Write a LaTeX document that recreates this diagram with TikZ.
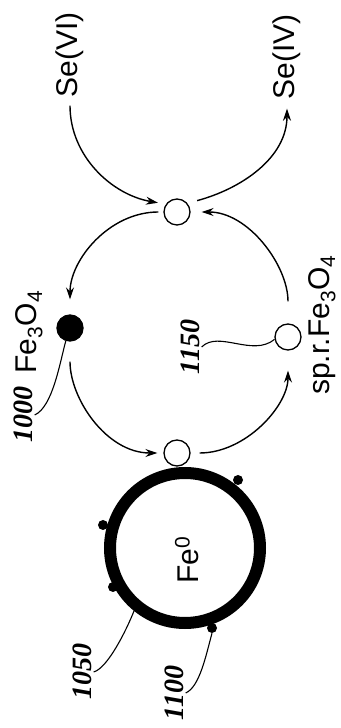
\documentclass[tikz,border=0pt]{standalone}
\usepackage{fontspec}
\setsansfont{Liberation Sans}
\newfontfamily\numfont{Liberation Serif}
\usetikzlibrary{arrows.meta}

\begin{document}
\begin{tikzpicture}[
		x=1pt, y=1pt,
		lbl/.style={rotate=90, inner sep=3pt,
			font=\sffamily\fontsize{30}{36}\selectfont},
		num/.style={rotate=90, inner sep=2pt,
			font=\numfont\bfseries\itshape\fontsize{28}{32}\selectfont},
		site/.style={circle, draw, line width=1.3pt,
			minimum size=26pt, inner sep=0pt},
		dot/.style={circle, fill, minimum size=10pt, inner sep=0pt},
		flow/.style={->, line width=1.4pt},
		lead/.style={line width=1.1pt},
		>={Stealth[length=12pt,width=8pt]}
		]
		\useasboundingbox (0,0) rectangle (340,728);
		
		\node[lbl] (sevi) at (70,673)  {Se(VI)};
		\node[lbl] (seiv) at (287,671) {Se(IV)};
		\node[site] (ctop) at (177,516) {};
		\node[site, fill] (fe) at (70,400) {};
		\node[site] (spr) at (288,391) {};
		\node[site] (cbot) at (177,275) {};
		\node[lbl] (fetxt) at (29,396) {Fe\textsubscript{3}O\textsubscript{4}};
		\node[lbl, inner sep=1pt] (sprtxt) at (322,403) {sp.r.Fe\textsubscript{3}O\textsubscript{4}};
		\node[num] (n1000) at (23,313) {1000};
		\node[num] (n1150) at (190,381) {1150};
		
		% Fe0 core with shell
		\node[circle, draw, line width=12pt, minimum size=150pt, inner sep=0pt]
			(big) at (185,180) {};
		\node[lbl] (core) at (187,168) {Fe\textsuperscript{0}};
		\node[dot] (d1) at (238,248) {};
		\node[dot] (d2) at (103,203) {};
		\node[dot] (d3) at (113,141) {};
		\node[dot] (d4) at (212,100) {};
		\node[num] (n1050) at (82,56) {1050};
		\node[num] (n1100) at (174,35) {1100};
		
		\draw[flow, shorten <=5pt, shorten >=8pt] (sevi.west) to[out=-90,in=170] (ctop.145);
		\draw[flow, shorten <=10pt, shorten >=6pt] (ctop.40) to[out=15,in=-90] (seiv.west);
		\draw[flow, shorten <=5pt, shorten >=15pt] (ctop) to[out=180,in=90] (fe);
		\draw[flow, shorten <=20pt, shorten >=6pt] (fe) to[out=-90,in=180] (cbot);
		\draw[flow, shorten <=9pt, shorten >=20pt] (cbot) to[out=0,in=-90] (spr);
		\draw[flow, shorten <=22pt, shorten >=11pt] (spr) to[out=90,in=0] (ctop);
		
		\draw[lead] (n1000.south) .. controls +(18,8) and +(-6,-22) .. (fe.252);
		\draw[lead] (n1150.south) .. controls +(17,17) and +(-22,-18) .. (spr.190);
		\draw[lead] (n1050.south) .. controls +(14,4) and +(-8,-20) .. (big.231);
		\draw[lead] (n1100.south) .. controls +(14,6) and +(-6,-22) .. (d4.south);
	\end{tikzpicture}
\end{document}
